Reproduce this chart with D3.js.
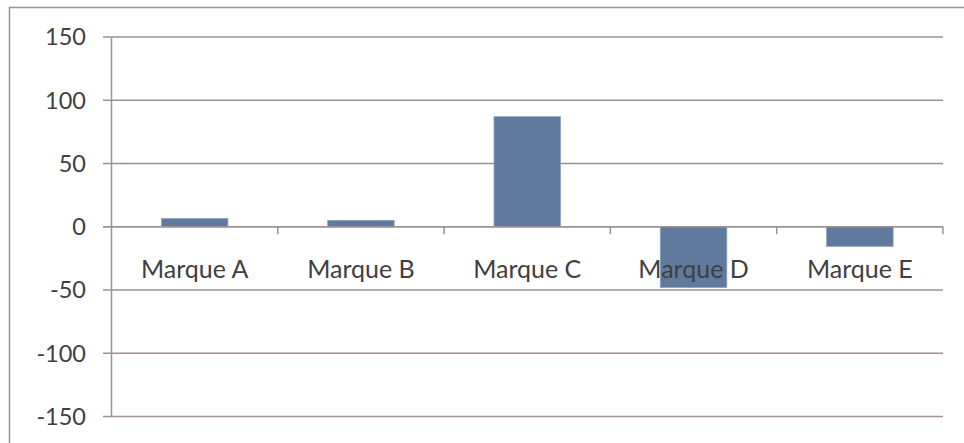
<!DOCTYPE html>
<html><head><meta charset="utf-8">
<script src="https://cdn.jsdelivr.net/npm/d3@7"></script>
<style>html,body{margin:0;padding:0;background:#fff;overflow:hidden}</style>
</head><body>
<svg id="c" width="964" height="443"></svg>
<script>
const categories = ["Marque A", "Marque B", "Marque C", "Marque D", "Marque E"];
const values = [6.5, 5, 87, -48, -15.5];
const yTicks = [150, 100, 50, 0, -50, -100, -150];

const svg = d3.select("#c");
const gridCol = "#9e918f";
const textCol = "#404040";
const font = "Lato, 'Open Sans', sans-serif";

// outer border
svg.append("rect").attr("x", 9.5).attr("y", 7.5).attr("width", 1000).attr("height", 1000)
  .attr("fill", "none").attr("stroke", gridCol).attr("stroke-width", 1.5);

const left = 111.5, right = 943;
const x = d3.scaleBand().domain(categories).range([left, right]).paddingInner(0.6).paddingOuter(0.3);
const xb = d3.scaleBand().domain(categories).range([left, right]);
const y = d3.scaleLinear().domain([-150, 150]).range([416.5, 37]);

// gridlines
svg.append("g").selectAll("line").data(yTicks).join("line")
  .attr("x1", 103).attr("x2", right).attr("y1", d => y(d)).attr("y2", d => y(d))
  .attr("stroke", gridCol).attr("stroke-width", 1.3);

// y axis line
svg.append("line").attr("x1", left).attr("x2", left).attr("y1", y(150)).attr("y2", y(-150))
  .attr("stroke", gridCol).attr("stroke-width", 1.5);

// y tick labels
svg.append("g").selectAll("text").data(yTicks).join("text")
  .attr("x", 86).attr("y", d => y(d)).attr("dy", "0.36em").attr("text-anchor", "end")
  .attr("font-family", font).attr("font-size", 23.5).attr("fill", textCol).text(d => d);

// bars
svg.append("g").selectAll("rect").data(values).join("rect")
  .attr("x", (d, i) => x(categories[i]))
  .attr("width", x.bandwidth())
  .attr("y", d => Math.min(y(d), y(0)))
  .attr("height", d => Math.abs(y(d) - y(0)))
  .attr("fill", "#5f7a9c").attr("stroke", "#8aa2c0").attr("stroke-width", 0.8);

// zero axis line
svg.append("line").attr("x1", 103).attr("x2", right).attr("y1", y(0)).attr("y2", y(0))
  .attr("stroke", gridCol).attr("stroke-width", 1.5);

// category tick marks
const bounds = categories.map(c => xb(c) + xb.bandwidth());
svg.append("g").selectAll("line").data(bounds).join("line")
  .attr("x1", d => d).attr("x2", d => d).attr("y1", y(0)).attr("y2", y(0) + 7.5)
  .attr("stroke", gridCol).attr("stroke-width", 1.5);

// category labels
svg.append("g").selectAll("text").data(categories).join("text")
  .attr("x", d => xb(d) + xb.bandwidth() / 2).attr("y", 277.5)
  .attr("text-anchor", "middle")
  .attr("font-family", font).attr("font-size", 25).attr("fill", textCol).text(d => d);
</script>
</body></html>
